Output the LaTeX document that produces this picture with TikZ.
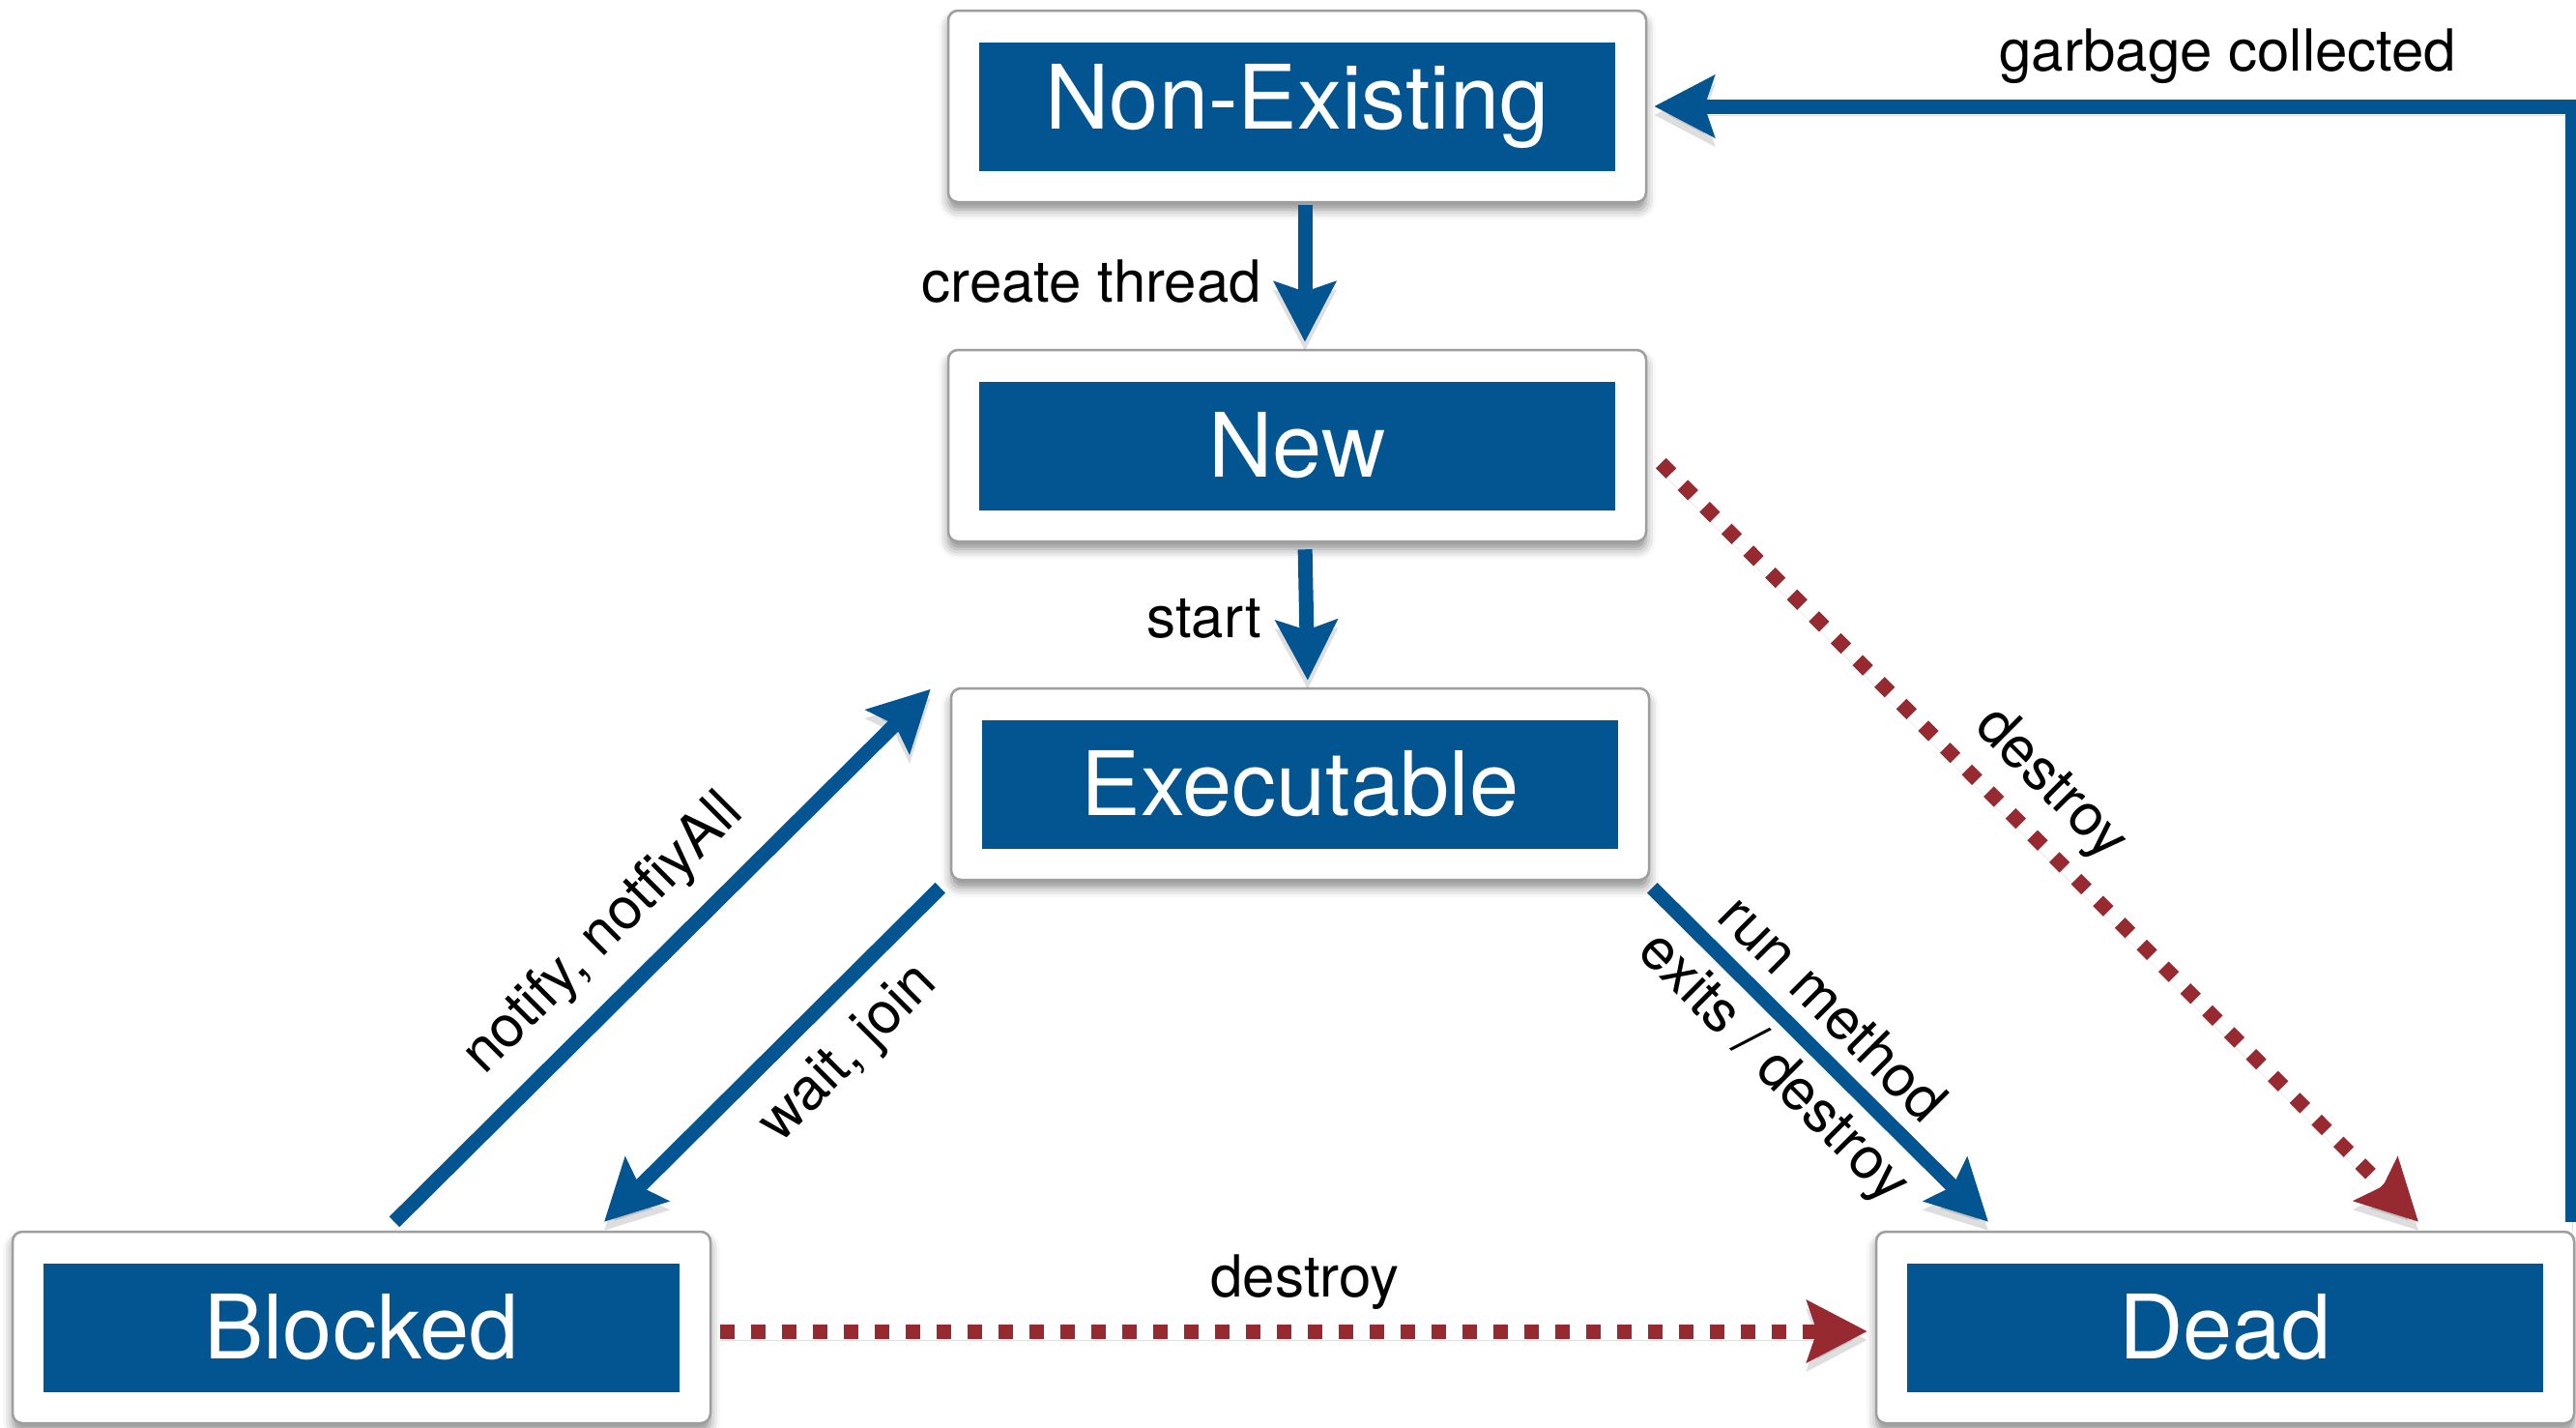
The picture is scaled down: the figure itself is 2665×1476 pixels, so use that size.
\documentclass[tikz,border=0pt]{standalone}
\usepackage{fontspec}
\setmainfont{TeX Gyre Heros}
\usetikzlibrary{arrows.meta,shadows.blur}
\definecolor{jblue}{RGB}{2,85,145}
\definecolor{jred}{RGB}{150,42,48}
\tikzset{
  statebox/.style={draw=black!38, line width=2.5pt, fill=white, rounded corners=10pt,
    minimum width=722pt, minimum height=198pt, inner sep=0pt,
    blur shadow={shadow xshift=0pt, shadow yshift=-8pt, shadow blur radius=10pt, shadow opacity=45}},
  statein/.style={fill=jblue, minimum width=658pt, minimum height=133pt, inner sep=0pt,
    text=white, font=\fontsize{92}{110}\selectfont},
  tip/.style={-{Stealth[length=62pt, width=63pt, inset=10pt]}},
  flow/.style={draw=jblue, line width=15pt, tip,
    preaction={draw=black, opacity=.13, transform canvas={yshift=-9pt}}},
  kill/.style={draw=jred, line width=15pt, dash pattern=on 15pt off 17pt, tip,
    preaction={draw=black, opacity=.13, transform canvas={yshift=-9pt}}},
  lbl/.style={font=\fontsize{60}{84}\selectfont, text=black, inner sep=0pt},
}
\begin{document}
\begin{tikzpicture}[x=1pt,y=-1pt]
\useasboundingbox (0,0) rectangle (2665,1476);

% states
\node[statebox] (ne) at (1342,110) {};
\node[statein] (nein) at (ne) {Non-Existing};
\node[statebox] (nw) at (1342,461) {};
\node[statein] (nwin) at (nw) {New};
\node[statebox] (ex) at (1345,811) {};
\node[statein] (exin) at (ex) {Executable};
\node[statebox] (bl) at (374,1373) {};
\node[statein] (blin) at (bl) {Blocked};
\node[statebox] (dd) at (2302,1373) {};
\node[statein] (ddin) at (dd) {Dead};

% transitions
\draw[flow, shorten <=2pt, shorten >=7pt] ([xshift=8pt]ne.south) -- ([xshift=8pt]nw.north);
\draw[flow, shorten <=7pt, shorten >=7pt] ([xshift=8pt]nw.south) -- ([xshift=8pt]ex.north);
\draw[flow] ([xshift=34pt,yshift=9pt]bl.north) -- ([xshift=-20pt,yshift=-2pt]ex.north west);
\draw[flow] ([xshift=-10pt,yshift=-7pt]ex.south west) -- ([xshift=251pt,yshift=9pt]bl.north);
\draw[flow] ([xshift=2pt,yshift=-7pt]ex.south east) -- ([xshift=-245pt,yshift=9pt]dd.north);
\draw[kill] ([xshift=14pt,yshift=-18pt]nw.east) -- ([xshift=200pt,yshift=9pt]dd.north);
\draw[kill, shorten <=9pt, shorten >=8pt] ([yshift=-4pt]bl.east) -- ([yshift=-4pt]dd.west);
\draw[flow, shorten >=7pt] ([xshift=-3pt,yshift=9pt]dd.north east) |- (ne.east);

% labels
\node[lbl, anchor=east] (lcreate) at (1305,291) {create thread};
\node[lbl, anchor=east] (lstart) at (1305,640) {start};
\node[lbl, anchor=base] (lgc) at (2305,73) {garbage collected};
\node[lbl, anchor=base] (ldh) at (1350,1341) {destroy};
\node[lbl, rotate=-45] (ldd) at (2121,812) {destroy};
\node[lbl, rotate=45] (lnotify) at (625,967) {notify, notfiyAll};
\node[lbl, rotate=45] (lwait) at (879,1091) {wait, join};
\node[lbl, rotate=-45, align=center] (lrun) at (1863,1076) {run method\\exits / destroy};
\end{tikzpicture}
\end{document}
